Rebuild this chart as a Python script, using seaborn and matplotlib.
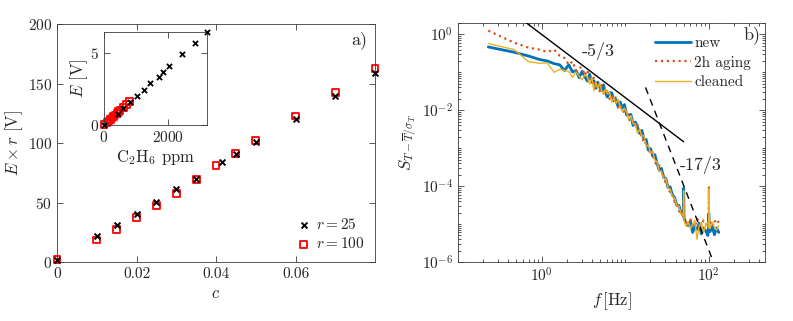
import numpy as np
import pandas as pd
import seaborn as sns
from matplotlib import pyplot as plt
from matplotlib.ticker import LogLocator, NullFormatter, FixedLocator

# ---- panel a) data
c_25 = [0, 0.01, 0.015, 0.02, 0.025, 0.03, 0.035, 0.0415, 0.045, 0.05, 0.06, 0.07, 0.08]
Er_25 = [2, 21.5, 31, 40.7, 50.8, 61, 70, 83.7, 91, 101, 120, 139.6, 158.7]
c_100 = [0, 0.01, 0.015, 0.02, 0.025, 0.03, 0.035, 0.04, 0.045, 0.05, 0.06, 0.07, 0.08]
Er_100 = [2, 18.5, 27.2, 37.4, 47.2, 57.6, 69.7, 80.9, 91.3, 102.2, 122.8, 142.4, 162.4]

# inset
ppm_25 = [0, 427, 604, 813, 1021, 1229, 1417, 1698, 1834, 2021, 2427, 2823, 3200]
E_25 = [0.02, 0.77, 1.2, 1.62, 2.04, 2.46, 2.89, 3.36, 3.66, 4.11, 4.93, 5.68, 6.45]
ppm_100 = [0, 100, 150, 200, 250, 300, 350, 400, 450, 500, 600, 700, 800]
E_100 = [0.02, 0.19, 0.28, 0.37, 0.47, 0.58, 0.70, 0.81, 0.92, 1.02, 1.23, 1.42, 1.62]

# ---- panel b) data (spectra, stored as log10 S)
freq = [0.23, 0.47, 0.70, 0.94, 1.17, 1.41, 1.64, 1.88, 2.11, 2.34,
        2.58, 2.81, 3.05, 3.28, 3.52, 3.75, 3.98, 4.22, 4.45, 4.69,
        4.92, 5.2, 5.5, 5.8, 6.1, 6.5, 6.9, 7.3, 7.7, 8.2,
        8.7, 9.2, 9.8, 10.4, 11.0, 11.7, 12.4, 13.2, 14.0, 14.9,
        15.8, 16.8, 17.8, 18.9, 20.1, 21.3, 22.6, 24.0, 25.5, 27.1,
        28.8, 30.6, 32.5, 34.5, 36.6, 38.9, 41.3, 43.9, 46.6, 49.5,
        50.0, 50.5, 53.5, 56.8, 60.3, 64.0, 68.0, 72.2, 76.7, 81.4,
        86.4, 91.7, 97.4, 99.5, 100.0, 100.5, 103.4, 109.8, 116.6, 123.8,
        131.4]
new_log = [-0.33, -0.47, -0.57, -0.66, -0.70, -0.77, -0.80, -0.95, -0.80, -0.99,
           -0.95, -1.14, -0.97, -1.11, -1.23, -1.05, -1.26, -1.22, -1.42, -1.26,
           -1.34, -1.48, -1.33, -1.53, -1.65, -1.54, -1.54, -1.75, -1.71, -1.90,
           -1.78, -1.94, -1.85, -2.13, -2.12, -2.11, -2.40, -2.31, -2.45, -2.61,
           -2.53, -2.77, -2.77, -3.05, -3.01, -3.21, -3.17, -3.39, -3.58, -3.53,
           -3.77, -3.80, -4.04, -4.02, -4.23, -4.30, -4.50, -4.51, -4.71, -4.73,
           -4.05, -4.84, -4.98, -5.04, -4.92, -5.22, -5.08, -5.14, -4.98, -5.26,
           -5.10, -5.18, -5.30, -5.02, -4.72, -5.12, -5.20, -5.06, -5.28, -5.10,
           -5.22]
aging_log = [0.10, -0.22, -0.35, -0.40, -0.46, -0.40, -0.56, -0.62, -0.80, -0.71,
             -0.96, -0.87, -0.88, -1.08, -0.94, -1.16, -1.20, -1.14, -1.39, -1.29,
             -1.50, -1.34, -1.44, -1.56, -1.44, -1.70, -1.61, -1.73, -1.66, -1.93,
             -1.84, -1.95, -2.10, -1.99, -2.21, -2.33, -2.25, -2.43, -2.38, -2.66,
             -2.65, -2.89, -2.83, -2.96, -3.17, -3.11, -3.35, -3.48, -3.45, -3.68,
             -3.72, -3.96, -3.99, -4.18, -4.19, -4.41, -4.46, -4.66, -4.67, -4.83,
             -4.40, -4.90, -4.96, -5.06, -4.88, -4.98, -5.08, -4.86, -4.94, -5.04,
             -4.90, -4.98, -5.10, -4.84, -4.00, -4.88, -4.94, -5.06, -4.90, -5.00,
             -4.92]
cleaned_log = [-0.24, -0.40, -0.72, -0.76, -0.75, -1.00, -0.92, -0.95, -0.98, -1.13,
               -0.99, -1.10, -1.20, -1.06, -1.12, -1.31, -1.14, -1.48, -1.26, -1.43,
               -1.28, -1.47, -1.58, -1.44, -1.57, -1.53, -1.79, -1.67, -1.82, -1.71,
               -1.91, -2.03, -1.94, -2.05, -2.24, -2.14, -2.35, -2.36, -2.60, -2.50,
               -2.68, -2.67, -2.94, -2.92, -3.13, -3.08, -3.32, -3.35, -3.60, -3.61,
               -3.79, -3.80, -4.05, -4.08, -4.28, -4.31, -4.50, -4.53, -4.73, -4.77,
               -4.12, -4.90, -5.06, -4.94, -5.12, -5.00, -4.90, -5.40, -5.04, -4.96,
               -5.22, -5.02, -4.96, -5.10, -4.10, -4.98, -5.12, -4.94, -5.08, -5.16,
               -5.04]

# reference slopes (end points)
slope53_f = [0.62, 50]
slope53_s = [2.22, 1.48e-3]
slope173_f = [17.5, 115]
slope173_s = [0.04, 9.3e-7]

sns.set_theme(context="paper", style="ticks")
plt.rcParams["font.family"] = ["cmr10", "DejaVu Serif"]
plt.rcParams["mathtext.fontset"] = "cm"
plt.rcParams["axes.formatter.use_mathtext"] = True
plt.rcParams["axes.unicode_minus"] = False

edge = "#3c3c3c"
txt = "#262626"

fig = plt.figure(figsize=(7.93, 3.21), dpi=100)
ax1 = fig.add_axes([0.0719, 0.1838, 0.401, 0.741])
axin = fig.add_axes([0.1311, 0.6106, 0.130, 0.2897])
ax2 = fig.add_axes([0.5776, 0.1838, 0.3871, 0.7445])


def style_axes(ax, fs=10):
    for sp in ax.spines.values():
        sp.set_visible(True)
        sp.set_color(edge)
        sp.set_linewidth(0.6)
    ax.tick_params(which="both", direction="in", top=True, right=True, colors=edge,
                   labelcolor=txt, labelsize=fs, width=0.6)
    ax.tick_params(which="major", length=4)
    ax.tick_params(which="minor", length=2)


# ---- panel a)
sns.scatterplot(x=c_25, y=Er_25, marker="x", s=18, color="black", linewidth=1.4,
                label="$r = 25$", ax=ax1, zorder=3, clip_on=False)
sns.scatterplot(x=c_100, y=Er_100, marker="s", s=24, facecolors="none", edgecolor="red",
                linewidth=1.3, label="$r = 100$", ax=ax1, zorder=2, clip_on=False)
ax1.set_xlim(0, 0.08)
ax1.set_ylim(0, 200)
ax1.set_xticks([0, 0.02, 0.04, 0.06])
ax1.set_xticklabels(["0", "0.02", "0.04", "0.06"])
ax1.set_yticks([0, 50, 100, 150, 200])
style_axes(ax1, 11)
ax1.set_xlabel("$c$", fontsize=12, color=txt)
ax1.set_ylabel(r"$E\times r$ [V]", fontsize=12, color=txt, labelpad=2)
ax1.legend(loc="lower right", frameon=False, fontsize=11, handletextpad=0.2,
           borderaxespad=0.3, labelspacing=0.3, handlelength=1.2)
ax1.text(0.975, 0.935, "a)", transform=ax1.transAxes, ha="right", va="center",
         fontsize=13, color=txt)

# inset
sns.scatterplot(x=ppm_100, y=E_100, marker="s", s=22, facecolors="none", edgecolor="red",
                linewidth=1.3, ax=axin, zorder=2, clip_on=False)
sns.scatterplot(x=ppm_25, y=E_25, marker="x", s=14, color="black", linewidth=1.3,
                ax=axin, zorder=3, clip_on=False)
axin.set_xlim(0, 3200)
axin.set_ylim(0, 6.45)
axin.set_xticks([0, 2000])
axin.set_yticks([0, 5])
style_axes(axin, 11)
axin.set_xlabel(r"C$_2$H$_6$ ppm", fontsize=12, color=txt, labelpad=2)
axin.set_ylabel("$E$ [V]", fontsize=12, color=txt, labelpad=0)

# ---- panel b)
spec = pd.DataFrame({
    "f": freq * 3,
    "S": list(10.0 ** np.array(new_log)) + list(10.0 ** np.array(aging_log))
         + list(10.0 ** np.array(cleaned_log)),
    "run": ["new"] * len(freq) + ["2h aging"] * len(freq) + ["cleaned"] * len(freq),
})
styles = {"new": ("#0072BD", 2.0, "-", 1),
          "2h aging": ("#D95319", 1.6, ":", 2),
          "cleaned": ("#EDB120", 1.0, "-", 3)}
for run, (col, lw, ls, z) in styles.items():
    d = spec[spec["run"] == run]
    sns.lineplot(data=d, x="f", y="S", color=col, linewidth=lw, linestyle=ls,
                 estimator=None, sort=False, label=run, ax=ax2, zorder=z)
ax2.plot(slope53_f, slope53_s, color="black", linewidth=1.0, zorder=4)
ax2.plot(slope173_f, slope173_s, color="black", linewidth=1.0, linestyle=(0, (5, 4)), zorder=4)
ax2.set_xscale("log")
ax2.set_yscale("log")
ax2.set_xlim(0.1, 470)
ax2.set_ylim(1e-6, 2)
ax2.xaxis.set_major_locator(FixedLocator([1, 100]))
ax2.yaxis.set_major_locator(FixedLocator([1e-6, 1e-4, 1e-2, 1]))
ax2.xaxis.set_minor_locator(LogLocator(base=10, subs=np.arange(1, 10), numticks=20))
ax2.yaxis.set_minor_locator(LogLocator(base=10, subs=np.arange(1, 10), numticks=20))
ax2.xaxis.set_minor_formatter(NullFormatter())
ax2.yaxis.set_minor_formatter(NullFormatter())
style_axes(ax2, 11)
ax2.set_xlabel(r"$f\,$[Hz]", fontsize=12, color=txt)
ax2.set_ylabel(r"$S_{T-\overline{T}/\sigma_T}$", fontsize=12, color=txt, labelpad=2)
ax2.text(4.8, 0.355, "-5/3", ha="center", va="center", fontsize=13, color=txt)
ax2.text(80, 3.6e-4, "-17/3", ha="center", va="center", fontsize=13, color=txt)
ax2.text(0.985, 0.95, "b)", transform=ax2.transAxes, ha="right", va="center",
         fontsize=13, color=txt)
ax2.legend(loc="upper right", frameon=False, fontsize=11, handlelength=2.4,
           handletextpad=0.2, labelspacing=0.35, bbox_to_anchor=(1.0, 1.0))

fig.savefig("out.png", dpi=100)
